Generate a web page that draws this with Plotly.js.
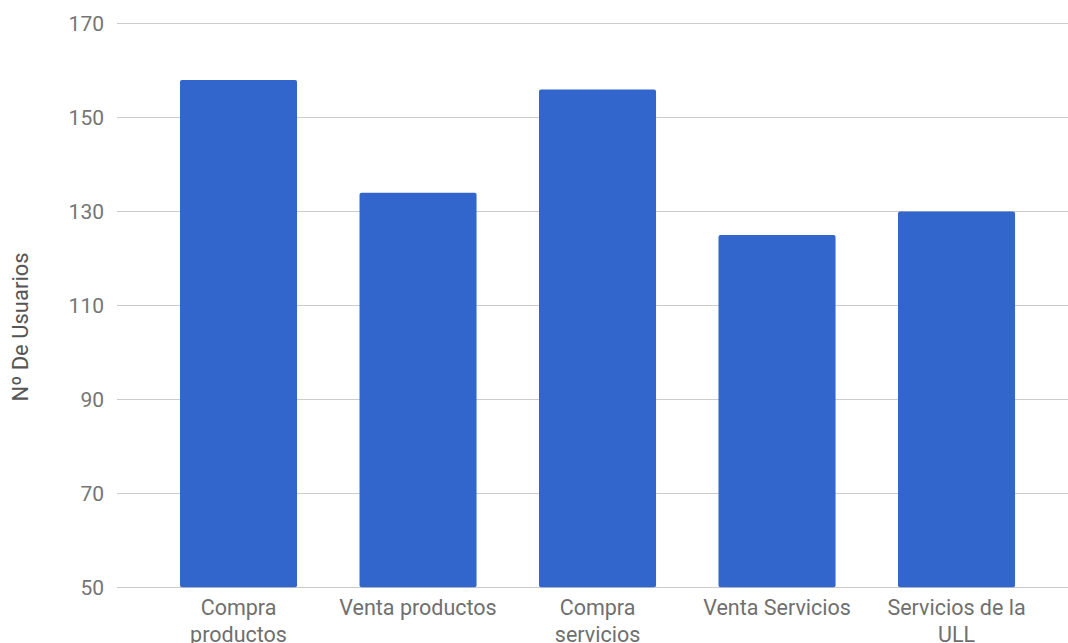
<!DOCTYPE html>
<html>
<head>
<meta charset="utf-8">
<script src="https://cdn.plot.ly/plotly-3.0.1.min.js"></script>
<style>html,body{margin:0;padding:0;background:#fff;}#chart{width:1068px;height:643px;}</style>
</head>
<body>
<div id="chart"></div>
<script>
const categories = ["Compra productos", "Venta productos", "Compra servicios", "Venta Servicios", "Servicios de la ULL"];
const tickLabels = ["Compra<br>productos", "Venta productos", "Compra<br>servicios", "Venta Servicios", "Servicios de la<br>ULL"];
const usuarios = [158, 134, 156, 125, 130];
const yTicks = [50, 70, 90, 110, 130, 150, 170];
const axisBase = 50;

const idx = categories.map((_, i) => i);

const trace = {
  type: 'bar',
  x: idx,
  // bars rise from the axis baseline (50) to each value
  y: usuarios.map(v => v - axisBase),
  base: axisBase,
  hovertext: categories,
  hoverinfo: 'text',
  textposition: 'none',
  marker: { color: '#3366cc', cornerradius: 2 },
  width: 0.652
};

const layout = {
  width: 1068,
  height: 643,
  margin: { l: 117, r: 0, t: 19, b: 51 },
  paper_bgcolor: '#ffffff',
  plot_bgcolor: '#ffffff',
  showlegend: false,
  font: { family: 'Roboto, Arial, sans-serif' },
  xaxis: {
    range: [-0.677, 4.621],
    tickmode: 'array',
    tickvals: idx,
    ticktext: tickLabels,
    tickfont: { size: 21.5, color: '#6f6f6f', family: 'Roboto' },
    showgrid: false,
    zeroline: false,
    showline: false,
    ticks: '',
    ticklabelstandoff: 0
  },
  yaxis: {
    range: [49, 171],
    tickmode: 'array',
    tickvals: yTicks,
    ticktext: yTicks.map(String),
    tickfont: { size: 21, color: '#757575', family: 'Roboto' },
    gridcolor: '#cccccc',
    gridwidth: 1,
    zeroline: false,
    showline: false,
    ticks: '',
    ticklabelstandoff: 12
  },
  annotations: [{
    text: 'Nº De Usuarios',
    xref: 'paper', yref: 'paper',
    x: -117/951, xanchor: 'left',
    xshift: 5,
    y: (592-327)/573, yanchor: 'middle',
    textangle: -90,
    showarrow: false,
    font: { size: 22, color: '#555555', family: 'Roboto' }
  }]
};

Plotly.newPlot('chart', [trace], layout, { displayModeBar: false, staticPlot: true });
</script>
</body>
</html>
